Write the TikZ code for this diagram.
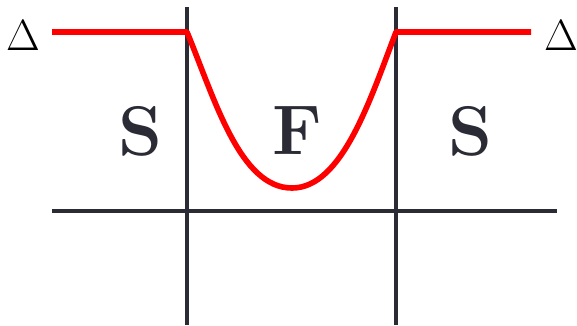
\documentclass[tikz,border=0pt]{standalone}
\usetikzlibrary{positioning, calc}
\definecolor{axisgray}{HTML}{2B2B36}
\definecolor{curvered}{HTML}{FF0000}

\begin{document}
\begin{tikzpicture}[x=0.2mm, y=-0.2mm,
    axis/.style={draw=axisgray, line width=2.1pt},
    curve/.style={draw=curvered, line width=3.2pt, line join=round},
    region/.style={font=\fontsize{40}{42}\selectfont\bfseries, text=axisgray},
    gaplabel/.style={font=\fontsize{24}{26}\selectfont, inner sep=0pt}]
    \useasboundingbox (0,0) rectangle (577,325);
    % axes
    \coordinate (h0) at (52,211); \coordinate (h1) at (557,211);
    \coordinate (vl0) at (187,7); \coordinate (vl1) at (187,325);
    \coordinate (vr0) at (396,7); \coordinate (vr1) at (396,325);
    \draw[axis] (h0) -- (h1);
    \draw[axis] (vl0) -- (vl1);
    \draw[axis] (vr0) -- (vr1);
    % gap labels
    \node[gaplabel] (dl) at (23,36) {$\Delta$};
    \node[gaplabel] (dr) at (561,36) {$\Delta$};
    % regions
    \node[region] (sl) at (140,131) {S};
    \node[region] (fm) at (297,131) {F};
    \node[region] (sr) at (470,131) {S};
    % order parameter
    \coordinate (c0) at (52,32); \coordinate (c1) at (187,32);
    \coordinate (cm) at (292,188);
    \coordinate (c2) at (396,32); \coordinate (c3) at (531,32);
    \draw[curve] (c0) -- (c1) .. controls (215,100) and (240,188) .. (cm)
        .. controls (342,188) and (370,100) .. (c2) -- (c3);
\end{tikzpicture}
\end{document}
